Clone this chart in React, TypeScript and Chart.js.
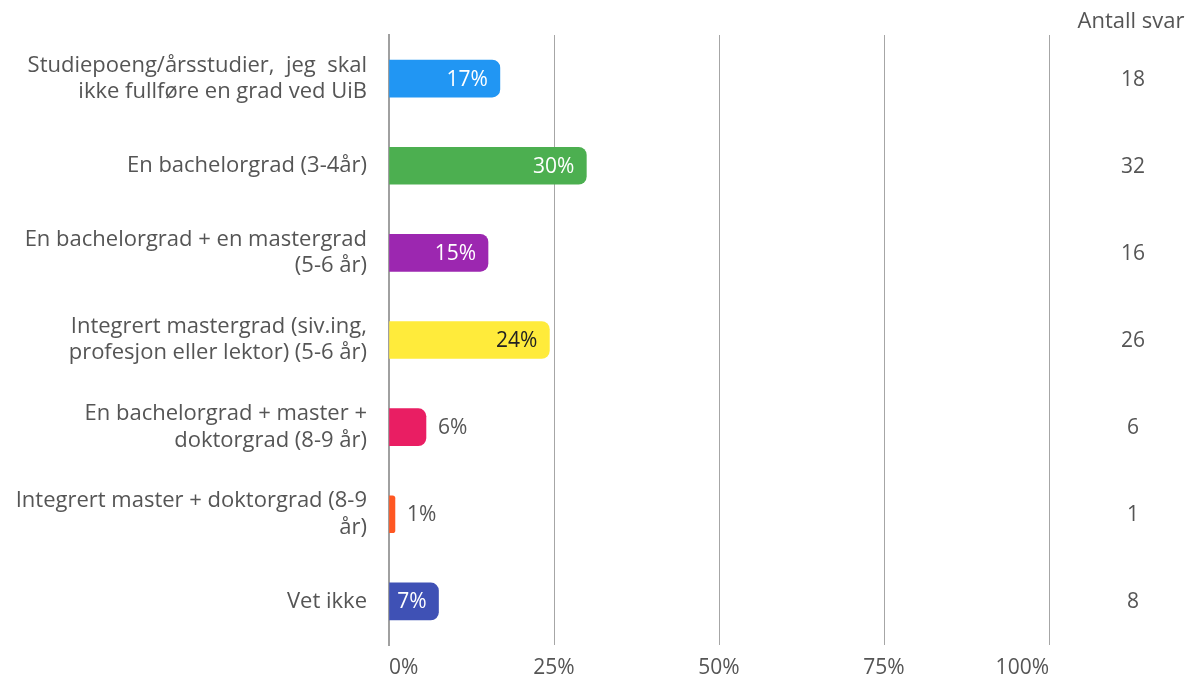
import React, { useEffect, useRef } from "react";
import { Chart, registerables } from "chart.js";

Chart.register(...registerables);

const categories: string[][] = [
  ["Studiepoeng/årsstudier,  jeg  skal", "ikke fullføre en grad ved UiB"],
  ["En bachelorgrad (3-4år)"],
  ["En bachelorgrad + en mastergrad", "(5-6 år)"],
  ["Integrert mastergrad (siv.ing,", "profesjon eller lektor) (5-6 år)"],
  ["En bachelorgrad + master +", "doktorgrad (8-9 år)"],
  ["Integrert master + doktorgrad (8-9", "år)"],
  ["Vet ikke"],
];
const percentValues: number[] = [16.8, 29.9, 15.0, 24.3, 5.6, 0.9, 7.5];
const percentLabels: string[] = ["17%", "30%", "15%", "24%", "6%", "1%", "7%"];
const answerCounts: string[] = ["18", "32", "16", "26", "6", "1", "8"];
const barColors: string[] = ["#2196F3", "#4CAF50", "#9C27B0", "#FFEB3B", "#E91E63", "#FF5722", "#3F51B5"];
const xTicks: number[] = [0, 25, 50, 75, 100];
const countHeader = "Antall svar";

const FONT = "'Open Sans', Lato, sans-serif";
const TEXT = "#555555";

export default function App() {
  const ref = useRef<HTMLCanvasElement | null>(null);
  useEffect(() => {
    if (!ref.current) return;
    const labelPlugin = {
      id: "labels",
      afterDatasetsDraw(chart: any) {
        const ctx = chart.ctx;
        const meta = chart.getDatasetMeta(0);
        const yScale = chart.scales.y;
        ctx.save();
        ctx.font = `21px ${FONT}`;
        ctx.textBaseline = "middle";
        meta.data.forEach((bar: any, i: number) => {
          const v = percentValues[i];
          if (v >= 7) {
            ctx.textAlign = "right";
            ctx.fillStyle = i === 3 ? "#222222" : "#ffffff";
            ctx.fillText(percentLabels[i], bar.x - 12, bar.y + 1);
          } else {
            ctx.textAlign = "left";
            ctx.fillStyle = TEXT;
            ctx.fillText(percentLabels[i], bar.x + 12, bar.y + 1);
          }
        });
        ctx.textAlign = "center";
        ctx.fillStyle = TEXT;
        ctx.font = `21px ${FONT}`;
        answerCounts.forEach((c, i) => {
          ctx.fillText(c, 1133, yScale.getPixelForValue(i) + 1);
        });
        ctx.font = `22px ${FONT}`;
        ctx.fillText(countHeader, 1131, 22);
        ctx.restore();
      },
    };
    const chart = new Chart(ref.current, {
      type: "bar",
      data: {
        labels: categories as any,
        datasets: [
          {
            data: percentValues,
            backgroundColor: barColors,
            barThickness: 37,
            borderRadius: 8,
            borderSkipped: "start",
          },
        ],
      },
      options: {
        indexAxis: "y",
        animation: false,
        responsive: false,
        maintainAspectRatio: false,
        layout: { padding: { top: 35, right: 150, bottom: 0, left: 0 } },
        plugins: { legend: { display: false }, tooltip: { enabled: false } },
        scales: {
          x: {
            min: 0,
            max: 100,
            afterBuildTicks: (axis: any) => {
              axis.ticks = xTicks.map((v) => ({ value: v }));
            },
            afterFit: (axis: any) => {
              axis.height = 37;
              axis.paddingLeft = 0;
              axis.paddingRight = 0;
            },
            grid: { color: "#a6a6a6", lineWidth: 1, drawTicks: false },
            border: { display: false },
            ticks: {
              padding: 10,
              align: "inner",
              color: TEXT,
              font: { family: FONT, size: 21 },
              callback: (v: any) => `${v}%`,
            },
          },
          y: {
            grid: { display: false },
            border: { display: true, color: "#a0a0a0", width: 2 },
            afterFit: (axis: any) => {
              axis.width = 389;
              axis.paddingTop = 0;
              axis.paddingBottom = 0;
            },
            ticks: {
              padding: 14,
              color: TEXT,
              font: { family: FONT, size: 22, lineHeight: 1.2 },
            },
          },
        },
      },
      plugins: [labelPlugin],
    });
    return () => chart.destroy();
  }, []);
  return (
    <div style={{ position: "absolute", left: 0, top: 0, width: 1199, height: 682, background: "#fff" }}>
      <canvas ref={ref} width={1199} height={682} style={{ width: 1199, height: 682 }} />
    </div>
  );
}
